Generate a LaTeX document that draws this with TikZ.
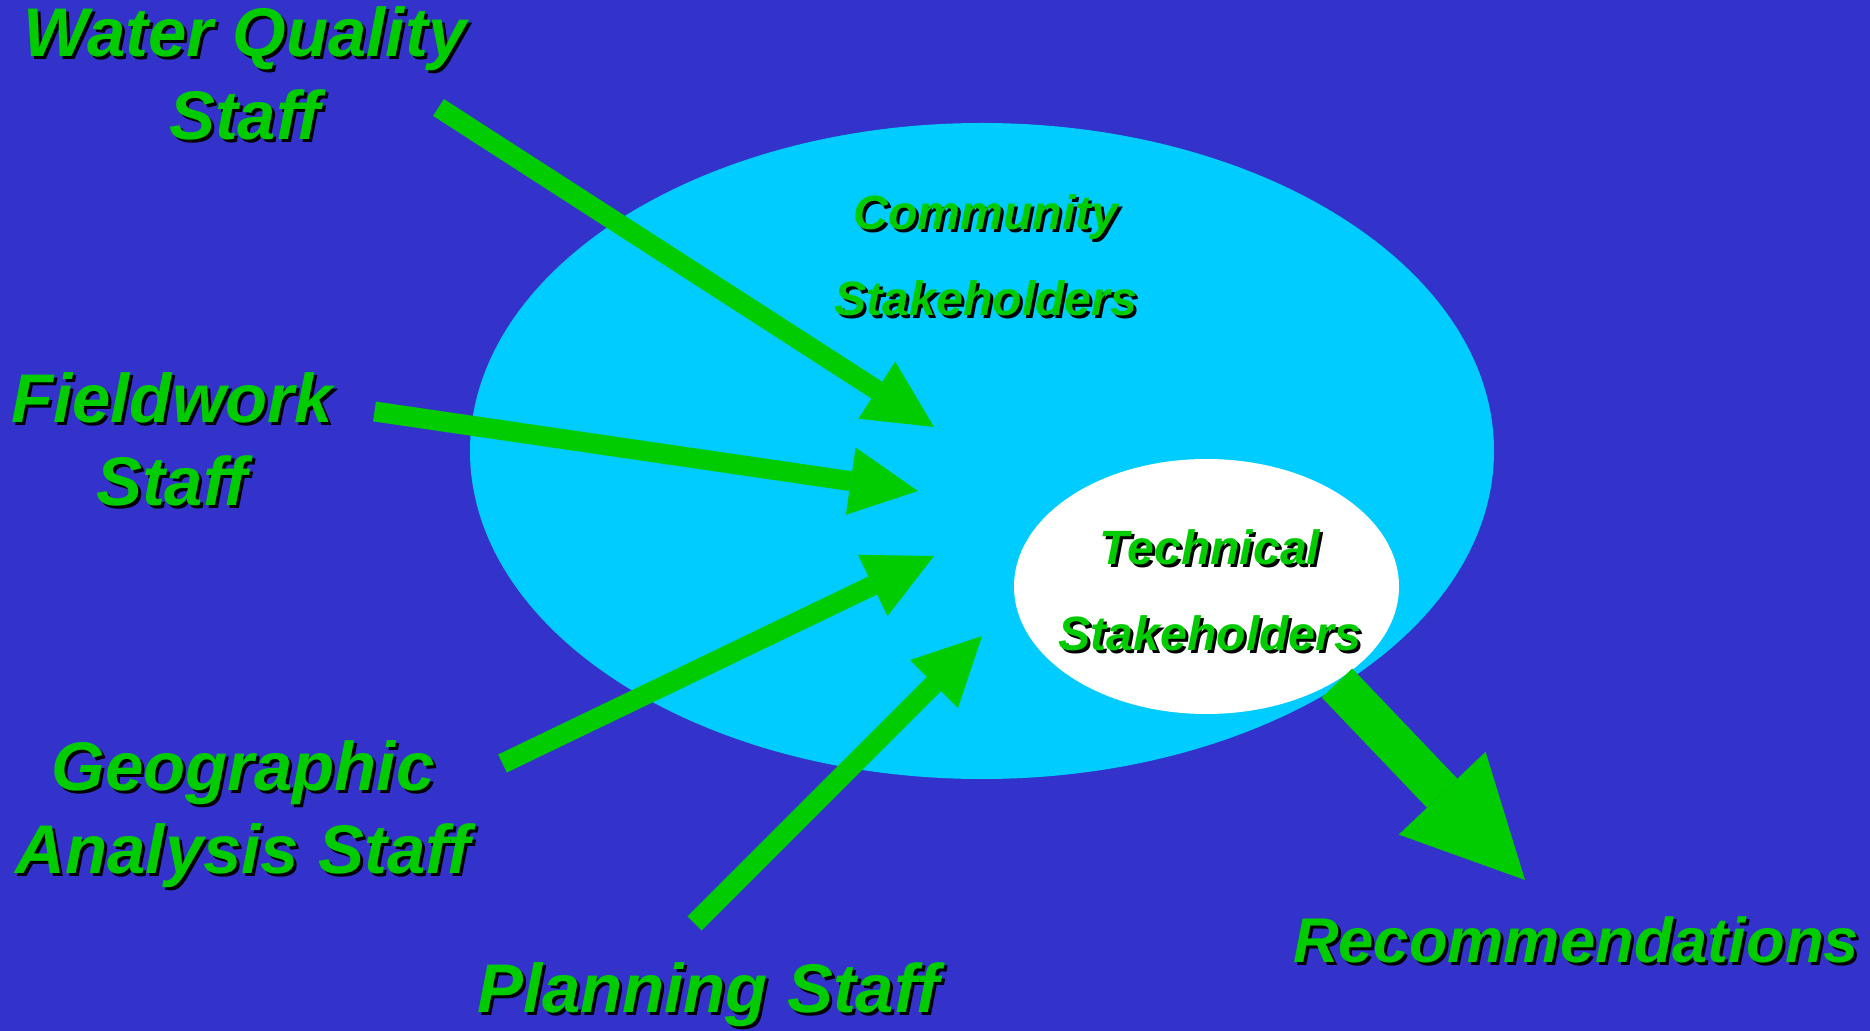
\documentclass[tikz,border=0pt]{standalone}
\usepackage{fontspec}
\setmainfont{Liberation Sans}
\usepackage{tikz}
\usetikzlibrary{arrows.meta, positioning, shapes.geometric}

\definecolor{bgblue}{HTML}{3333CC}
\definecolor{skyfill}{HTML}{00CCFF}
\definecolor{grn}{HTML}{00CC00}

% green text with a black drop shadow
\newcommand{\shtxt}[1]{\rlap{\kern0.03cm\raisebox{-0.03cm}{\color{black}#1}}#1}

\begin{document}
\begin{tikzpicture}[
    lbl/.style={text=grn, font=\fontsize{19.6}{23.6}\selectfont\bfseries\itshape, align=center, inner sep=0pt, anchor=north},
    inlbl/.style={lbl, font=\fontsize{13.7}{24.5}\selectfont\bfseries\itshape},
    feed/.style={draw=grn, line width=0.2cm, -{Triangle[length=0.68cm, width=0.68cm, line width=0pt]}},
    result/.style={draw=grn, line width=0.42cm, -{Triangle[length=1.2cm, width=1.2cm, line width=0pt]}}
]
    % background
    \fill[bgblue] (0,0) rectangle (18.70,-10.31);
    \useasboundingbox (0,0) rectangle (18.70,-10.31);

    % stakeholder groups
    \node[ellipse, fill=skyfill, minimum width=10.24cm, minimum height=6.56cm, inner sep=0pt] (community) at (9.82,-4.51) {};
    \node[ellipse, fill=white, minimum width=3.85cm, minimum height=2.55cm, inner sep=0pt] (technical) at (12.065,-5.865) {};

    \node[inlbl] (comm-txt) at (9.86,-1.94) {\shtxt{Community}\\\shtxt{Stakeholders}};
    \node[inlbl] (tech-txt) at (12.10,-5.29) {\shtxt{Technical}\\\shtxt{Stakeholders}};

    % staff groups
    \node[lbl] (water) at (2.45,-0.06) {\shtxt{Water Quality}\\\shtxt{Staff}};
    \node[lbl] (field) at (1.72,-3.72) {\shtxt{Fieldwork}\\\shtxt{Staff}};
    \node[lbl] (geo) at (2.43,-7.40) {\shtxt{Geographic}\\\shtxt{Analysis Staff}};
    \node[lbl] (plan) at (7.08,-9.62) {\shtxt{Planning Staff}};
    \node[lbl, font=\fontsize{18}{21}\selectfont\bfseries\itshape] (recom) at (15.76,-9.16) {\shtxt{Recommendations}};

    % arrow ends
    \coordinate (water-out) at (4.385,-1.075);
    \coordinate (water-in) at (9.34,-4.27);
    \coordinate (field-out) at (3.745,-4.115);
    \coordinate (field-in) at (9.18,-4.91);
    \coordinate (geo-out) at (5.025,-7.635);
    \coordinate (geo-in) at (9.34,-5.56);
    \coordinate (plan-out) at (6.945,-9.235);
    \coordinate (plan-in) at (9.82,-6.36);
    \coordinate (tech-out) at (13.37,-6.83);
    \coordinate (recom-in) at (15.25,-8.80);

    \draw[feed] (water-out) -- (water-in);
    \draw[feed] (field-out) -- (field-in);
    \draw[feed] (geo-out) -- (geo-in);
    \draw[feed] (plan-out) -- (plan-in);
    \draw[result] (tech-out) -- (recom-in);
\end{tikzpicture}
\end{document}
